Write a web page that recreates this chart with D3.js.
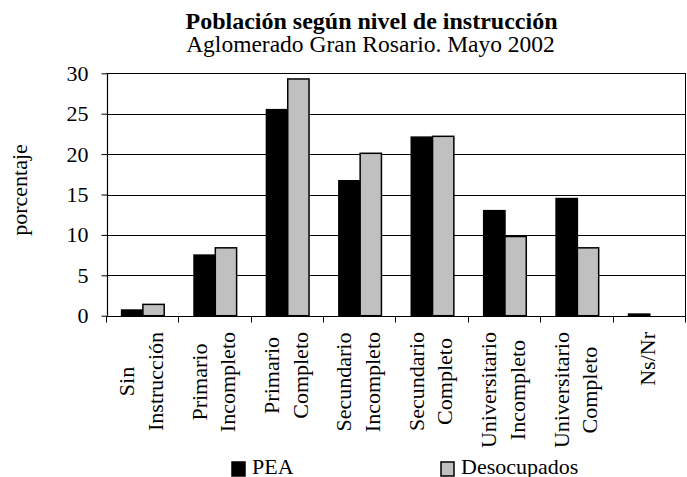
<!DOCTYPE html>
<html>
<head>
<meta charset="utf-8">
<script src="https://cdn.jsdelivr.net/npm/d3@7"></script>
<style>
  body { margin: 0; background: #fff; }
  svg { display: block; }
  svg text { font-family: "Liberation Serif", "Times New Roman", Times, serif !important; fill: #000; }
</style>
</head>
<body>
<div id="chart"></div>
<script>
// data (percent)
const categories = [
  ["Sin", "Instrucción"],
  ["Primario", "Incompleto"],
  ["Primario", "Completo"],
  ["Secundario", "Incompleto"],
  ["Secundario", "Completo"],
  ["Universitario", "Incompleto"],
  ["Universitario", "Completo"],
  ["Ns/Nr"]
];
const seriesNames = ["PEA", "Desocupados"];
const pea = [0.7, 7.5, 25.5, 16.7, 22.1, 13.0, 14.5, 0.2];
const desocupados = [1.4, 8.4, 29.3, 20.1, 22.2, 9.8, 8.4, 0];
const yTicks = [0, 5, 10, 15, 20, 25, 30];
const colors = ["#000000", "#c0c0c0"];

const serif = "'Liberation Serif', 'Times New Roman', serif";
const width = 687, height = 477;
const plotLeft = 106.7, plotRight = 686, plotTop = 73.3, plotBottom = 315.7;

const svg = d3.select("#chart").append("svg")
  .attr("width", width)
  .attr("height", height)
  .attr("font-family", serif);

const keys = categories.map(c => c.join(" "));
const values = [pea, desocupados];

const x0 = d3.scaleBand().domain(keys).range([plotLeft, plotRight]).padding(0);
const x1 = d3.scaleBand().domain(seriesNames).range([0, x0.bandwidth()])
  .paddingInner(0).paddingOuter(0.7);
const y = d3.scaleLinear().domain([0, 30]).range([plotBottom, plotTop]);

// gridlines
svg.append("g")
  .selectAll("line")
  .data(yTicks.filter(t => t > 0))
  .enter().append("line")
    .attr("x1", plotLeft).attr("x2", plotRight)
    .attr("y1", d => Math.round(y(d)) + 0.5)
    .attr("y2", d => Math.round(y(d)) + 0.5)
    .style("stroke", "#000")
    .style("stroke-width", 1);

// right border of plot area
svg.append("line")
  .attr("x1", plotRight - 0.5).attr("x2", plotRight - 0.5)
  .attr("y1", Math.round(y(30)) + 0.5).attr("y2", Math.round(plotBottom) + 6)
  .style("stroke", "#000");

// bars
const bars = [];
keys.forEach((k, i) => {
  seriesNames.forEach((s, j) => {
    bars.push({ key: k, series: s, value: values[j][i], color: colors[j] });
  });
});

svg.append("g")
  .selectAll("rect")
  .data(bars.filter(d => d.value > 0))
  .enter().append("rect")
    .attr("x", d => x0(d.key) + x1(d.series))
    .attr("width", x1.bandwidth())
    .attr("y", d => y(d.value))
    .attr("height", d => y(0) - y(d.value))
    .style("fill", d => d.color)
    .style("stroke", "#000")
    .style("stroke-width", 1.5);

// y axis
const yAxis = svg.append("g")
  .attr("transform", `translate(${Math.round(plotLeft) + 0.5},0)`)
  .call(d3.axisLeft(y).tickValues(yTicks).tickSize(6).tickPadding(13).tickFormat(d3.format("d")))
  .attr("font-family", serif)
  .attr("font-size", 22);
yAxis.select(".domain").attr("d", `M0,${y(30)}V${plotBottom}`).style("stroke", "#000").style("stroke-width", 1.2);
yAxis.selectAll(".tick line").style("stroke", "#000");
yAxis.selectAll(".tick text").style("fill", "#000");

// x axis line and ticks on category boundaries
const xBase = Math.round(plotBottom) + 0.5;
svg.append("line")
  .attr("x1", plotLeft).attr("x2", plotRight)
  .attr("y1", xBase).attr("y2", xBase)
  .style("stroke", "#000").style("stroke-width", 1.2);

const bounds = keys.map(k => x0(k)).concat([plotRight]);
svg.append("g")
  .selectAll("line")
  .data(bounds)
  .enter().append("line")
    .attr("x1", d => Math.round(d) - 0.5).attr("x2", d => Math.round(d) - 0.5)
    .attr("y1", xBase).attr("y2", xBase + 6)
    .style("stroke", "#000");

// category labels, rotated, lines centered on the widest line
const labelTop = 332;
const lineStep = 28.6;
const labels = svg.append("g")
  .selectAll("g")
  .data(categories)
  .enter().append("g");

labels.each(function (lines, i) {
  const g = d3.select(this);
  const cx = x0(keys[i]) + x0.bandwidth() / 2;
  const texts = lines.map((line, j) => {
    const off = (j - (lines.length - 1) / 2) * lineStep + 5.5;
    return g.append("text")
      .attr("text-anchor", "middle")
      .attr("font-size", 22)
      .attr("x", 0).attr("y", 0)
      .datum(off)
      .text(line);
  });
  const maxLen = d3.max(texts, t => t.node().getComputedTextLength());
  texts.forEach(t => {
    t.attr("transform", `translate(${cx + t.datum()},${labelTop + maxLen / 2}) rotate(-90)`);
  });
});

// y axis title
svg.append("text")
  .attr("transform", `translate(27,190) rotate(-90)`)
  .attr("text-anchor", "middle")
  .attr("font-size", 22)
  .text("porcentaje");

// titles
svg.append("text")
  .attr("x", 371.5).attr("y", 28.5)
  .attr("text-anchor", "middle")
  .attr("font-size", 24)
  .attr("font-weight", "bold")
  .text("Población según nivel de instrucción");

svg.append("text")
  .attr("x", 370.5).attr("y", 52)
  .attr("text-anchor", "middle")
  .attr("font-size", 23.5)
  .text("Aglomerado Gran Rosario. Mayo 2002");

// legend
const legendX = [232, 441];
const legend = svg.append("g")
  .selectAll("g")
  .data(seriesNames)
  .enter().append("g")
    .attr("transform", (d, i) => `translate(${legendX[i]},462)`);

legend.append("rect")
  .attr("width", 13).attr("height", 14)
  .style("fill", (d, i) => colors[i])
  .style("stroke", "#000")
  .style("stroke-width", 1.5);

legend.append("text")
  .attr("x", 20).attr("y", 11.5)
  .attr("font-size", 22)
  .text(d => d);
</script>
</body>
</html>
